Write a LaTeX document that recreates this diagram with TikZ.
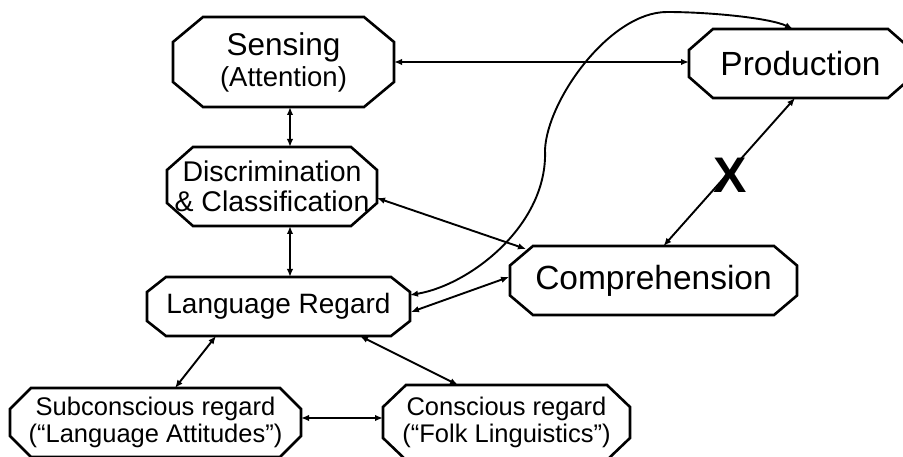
\documentclass[tikz,border=0pt]{standalone}
\usepackage{fontspec}
\setmainfont{Liberation Sans}
\usetikzlibrary{calc,arrows.meta}
\tikzset{
  box/.style={draw=none, inner sep=0pt, outer sep=0pt, align=center},
  frame/.style={line width=2.6pt, line join=miter},
  arr/.style={line width=1.9pt, {Latex[length=8pt,width=6.5pt]}-{Latex[length=8pt,width=6.5pt]}},
}
\newcommand\octframe[3]{%
  \draw[frame] ($(#1.north west)+(#2pt,0pt)$) -- ($(#1.north east)+(-#2pt,0pt)$)
    -- ($(#1.north east)+(0pt,-#3pt)$) -- ($(#1.south east)+(0pt,#3pt)$)
    -- ($(#1.south east)+(-#2pt,0pt)$) -- ($(#1.south west)+(#2pt,0pt)$)
    -- ($(#1.south west)+(0pt,#3pt)$) -- ($(#1.north west)+(0pt,-#3pt)$) -- cycle;}
\begin{document}
\begin{tikzpicture}[x=1pt,y=-1pt]
\useasboundingbox (0,0) rectangle (903,457);
\node[box, minimum width=221pt, minimum height=90pt, font=\fontsize{31.5}{31}\selectfont] (sens) at (283.5,62) {Sensing\\{\fontsize{27.5}{31}\selectfont (Attention)}};
\node[box, minimum width=223pt, minimum height=69pt, font=\fontsize{33.5}{33}\selectfont] (prod) at (800.5,63.5) {Production};
\node[box, minimum width=210pt, minimum height=79pt, font=\fontsize{28.5}{30}\selectfont] (disc) at (272,186.5) {Discrimination\\\&~Classification};
\node[box, minimum width=287pt, minimum height=69pt, font=\fontsize{33.5}{33}\selectfont] (comp) at (653.5,280.5) {Comprehension};
\node[box, minimum width=263pt, minimum height=59pt, font=\fontsize{28}{29}\selectfont] (lr) at (278.5,306.5) {Language Regard};
\node[box, minimum width=291pt, minimum height=69pt, font=\fontsize{25.5}{27}\selectfont] (sub) at (155.5,422.5) {Subconscious regard\\(“Language Attitudes”)};
\node[box, minimum width=247pt, minimum height=75pt, font=\fontsize{25.5}{27}\selectfont] (con) at (506.5,422.5) {Conscious regard\\(“Folk Linguistics”)};
\octframe{sens}{30}{25}
\octframe{prod}{24}{21}
\octframe{disc}{26}{23}
\octframe{comp}{23}{19.5}
\octframe{lr}{19}{15}
\octframe{sub}{21}{21}
\octframe{con}{23}{22}
% connectors
\draw[arr] (sens.east) -- (sens.east -| prod.west);
\coordinate (p2) at ($(sens.south)+(6.5pt,0pt)$);
\draw[arr] (p2) -- (p2 |- disc.north);
\coordinate (p3) at ($(disc.south)+(18pt,0pt)$);
\draw[arr] (p3) -- (p3 |- lr.north);
\draw[arr] ($(disc.east)+(0pt,-11.5pt)$) -- ($(comp.north west)+(16pt,-3pt)$);
\draw[arr] ($(lr.east)+(1pt,-5.5pt)$) -- ($(comp.west)+(-1pt,3.5pt)$);
\draw[arr] ($(lr.east)+(0pt,11.5pt)$) .. controls (470,285) and (548,225) .. (545,150)
  .. controls (547,100) and (610,12) .. (667,12)
  .. controls (710,12) and (770,18) .. ($(prod.north)+(-7.5pt,0pt)$);
\draw[arr] ($(prod.south)+(-5.5pt,0pt)$) -- ($(comp.north)+(10pt,0pt)$);
\draw[arr] ($(lr.south)+(-62.5pt,0pt)$) -- ($(sub.north)+(19.5pt,0pt)$);
\draw[arr] ($(lr.south)+(81.5pt,0pt)$) -- ($(con.north)+(-48.5pt,0pt)$);
\coordinate (p10) at ($(sub.east)+(0pt,4.5pt)$);
\draw[arr] (p10) -- (p10 -| con.west);
\node[font=\fontsize{50}{50}\selectfont\bfseries, inner sep=0pt] (xmark) at (730,175) {X};
\end{tikzpicture}
\end{document}
